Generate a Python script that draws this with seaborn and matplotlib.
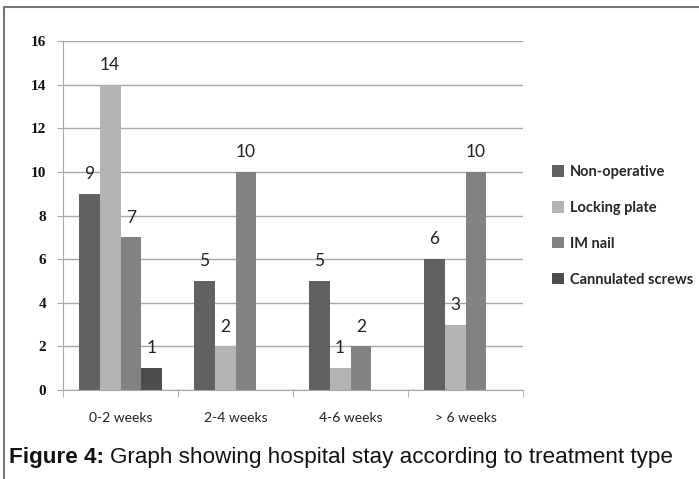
import matplotlib
matplotlib.use("Agg")
import matplotlib.pyplot as plt
import seaborn as sns
import pandas as pd
from matplotlib.patches import Rectangle, Patch

# Hospital stay by treatment type
categories = ["0-2 weeks", "2-4 weeks", "4-6 weeks", "> 6 weeks"]
treatments = ["Non-operative", "Locking plate", "IM nail", "Cannulated screws"]
non_operative = [9, 5, 5, 6]
locking_plate = [14, 2, 1, 3]
im_nail = [7, 10, 2, 10]
cannulated_screws = [1, 0, 0, 0]
y_ticks = [0, 2, 4, 6, 8, 10, 12, 14, 16]

colors = ["#616161", "#b3b3b3", "#828282", "#4d4d4d"]

series = [non_operative, locking_plate, im_nail, cannulated_screws]
df = pd.DataFrame(
    [(c, t, v) for t, vals in zip(treatments, series) for c, v in zip(categories, vals)],
    columns=["stay", "treatment", "count"],
)

sns.set_style("white")
fig = plt.figure(figsize=(6.99, 4.79), dpi=100)
ax = fig.add_axes([63 / 699, 1 - 390 / 479, 460 / 699, 349 / 479])

sns.barplot(
    data=df, x="stay", y="count", hue="treatment",
    hue_order=treatments, order=categories, palette=colors,
    width=0.73, saturation=1, legend=False, ax=ax, linewidth=0,
)

ax.set_ylim(0, 16)
ax.set_xlim(-0.5, 3.5)
ax.set_yticks(y_ticks)
ax.set_yticklabels([str(t) for t in y_ticks], fontfamily="Liberation Serif",
                   fontweight="bold", fontsize=11, color="#111111")
ax.set_xticks(range(len(categories)))
ax.set_xticklabels(categories, fontfamily="Lato", fontsize=10, color="#222222")
ax.set_xlabel("")
ax.set_ylabel("")
ax.grid(axis="y", color="#a6a6a6", linewidth=1)
ax.set_axisbelow(True)
for s in ["top", "right"]:
    ax.spines[s].set_visible(False)
ax.spines["left"].set_color("#a6a6a6")
ax.spines["bottom"].set_color("#a6a6a6")

# ticks: y on the left, x ticks at category boundaries
ax.tick_params(axis="y", length=4, color="#a6a6a6", pad=8, left=True)
ax.tick_params(axis="x", length=0, pad=16)
ax.set_xticks([-0.5, 0.5, 1.5, 2.5, 3.5], minor=True)
ax.tick_params(axis="x", which="minor", length=5, color="#a6a6a6", bottom=True)

# value labels above non-zero bars
for container in ax.containers:
    for bar in container:
        h = bar.get_height()
        if h > 0:
            ax.annotate(f"{int(h)}", (bar.get_x() + bar.get_width() / 2, h),
                        xytext=(0, 8.5), textcoords="offset points",
                        ha="center", va="bottom", fontfamily="Lato",
                        fontsize=12.5, color="#222222")

handles = [Patch(facecolor=c, edgecolor="none") for c in colors]
fig.legend(handles, treatments, loc="upper left", bbox_to_anchor=(539 / 699, 1 - 152 / 479),
           frameon=False, handlelength=0.8, handleheight=0.8, handletextpad=0.4,
           labelspacing=1.5, prop={"family": "Lato", "weight": "bold", "size": 10.5})

# outer frame
fig.patches.append(Rectangle((4 / 699, -0.1), 1.2, 1 - 7 / 479 + 0.1,
                             transform=fig.transFigure, fill=False,
                             edgecolor="#777777", linewidth=1.5))

# caption: bold label followed by regular text
cap_y = 1 - 458 / 479
lead = fig.text(9 / 699, cap_y, "Figure 4:", fontfamily="Liberation Sans",
                fontweight="bold", fontsize=16.2, va="center", color="#111111")
fig.canvas.draw()
bb = lead.get_window_extent()
fig.text((bb.x1 + 6) / 699, cap_y, "Graph showing hospital stay according to treatment type",
         fontfamily="Liberation Sans", fontsize=16.2, va="center", color="#111111")

fig.savefig("out.png", dpi=100)
